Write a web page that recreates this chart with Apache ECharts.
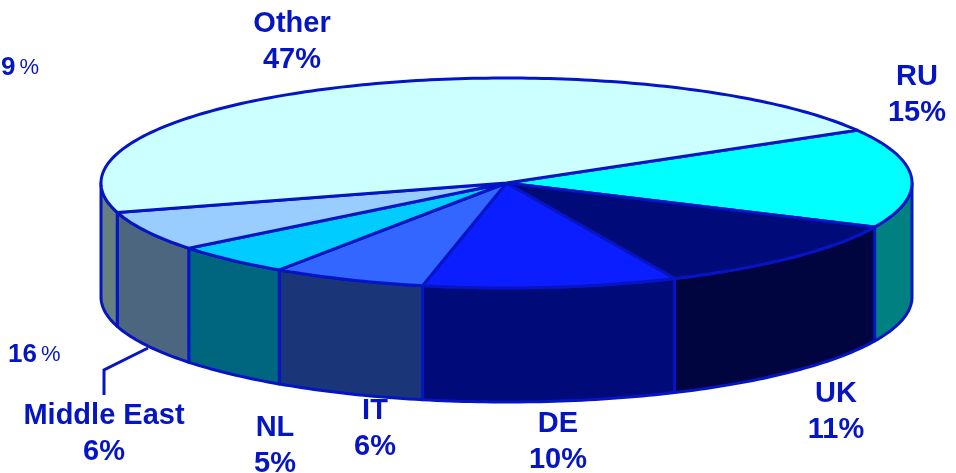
<!DOCTYPE html>
<html>
<head>
<meta charset="utf-8">
<style>
  html, body { margin: 0; padding: 0; background: #fff; }
  #chart { width: 956px; height: 473px; }
</style>
<script src="https://cdn.jsdelivr.net/npm/echarts@6/dist/echarts.min.js"></script>
</head>
<body>
<div id="chart"></div>
<script>
// slices clockwise from the RU/Other edge
const categories = ['RU', 'UK', 'DE', 'IT', 'NL', 'Middle East', 'Other']
const sliceValues = [15.4, 11.4, 10.2, 6.2, 4.9, 6.2, 46.5]
const percentLabels = ['15%', '11%', '10%', '6%', '5%', '6%', '47%']
const looseLabels = ['9', '16']

const topColors = ['#00FFFF', '#000A78', '#0A1EFF', '#3366FF', '#00CCFF', '#99CCFF', '#CCFFFF']
const wallColors = ['#008080', '#000540', '#000A78', '#1A3578', '#006680', '#4D6680', '#668080']
const inkColor = '#0515C4'

const startAngle = 30.2
const pieDepth = 1.086
const total = sliceValues.reduce((a, b) => a + b, 0)

// rim point of the top (or bottom) disc, through the hidden axes
function rim(api, deg, drop) {
  const r = deg * Math.PI / 180
  return api.coord([Math.cos(r), Math.sin(r) - drop])
}

function arcPoints(api, from, to, drop) {
  const pts = []
  const steps = Math.max(2, Math.ceil(Math.abs(from - to)))
  for (let i = 0; i <= steps; i++) {
    pts.push(rim(api, from + (to - from) * i / steps, drop))
  }
  return pts
}

function renderSlice(params, api) {
  const i = params.dataIndex
  let done = 0
  for (let k = 0; k < i; k++) done += sliceValues[k]
  const a0 = startAngle - done / total * 360
  const a1 = a0 - api.value(0) / total * 360
  const children = []

  // the wall only shows on the front half
  const hi = Math.min(a0, 0)
  const lo = Math.max(a1, -180)
  if (hi > lo) {
    const front = arcPoints(api, hi, lo, 0)
    const back = arcPoints(api, lo, hi, pieDepth)
    children.push({
      type: 'polygon',
      shape: { points: front.concat(back) },
      style: { fill: wallColors[i], stroke: inkColor, lineWidth: 3, lineJoin: 'round' }
    })
  }

  const top = [api.coord([0, 0])].concat(arcPoints(api, a0, a1, 0))
  children.push({
    type: 'polygon',
    shape: { points: top },
    style: { fill: topColors[i], stroke: inkColor, lineWidth: 3, lineJoin: 'round' }
  })
  return { type: 'group', children: children }
}

function sliceLabel(i, x, y) {
  return {
    type: 'text', x: x, y: y, z: 10,
    style: {
      text: categories[i] + '\n' + percentLabels[i],
      fill: inkColor,
      font: 'bold 29px "Liberation Sans", Arial, sans-serif',
      lineHeight: 36,
      align: 'center',
      verticalAlign: 'middle'
    }
  }
}

function looseLabel(i, x, y) {
  return {
    type: 'text', x: x, y: y, z: 10,
    style: {
      text: '{b|' + looseLabels[i] + '}{n|%}',
      align: 'left',
      verticalAlign: 'middle',
      rich: {
        b: { font: 'bold 26px "Liberation Sans", Arial, sans-serif', fill: inkColor },
        n: { font: '22px "Liberation Sans", Arial, sans-serif', fill: inkColor, padding: [0, 0, 0, 4] }
      }
    }
  }
}

const chart = echarts.init(document.getElementById('chart'))
chart.setOption({
  animation: false,
  backgroundColor: '#fff',
  grid: { left: 101, right: 44, top: 78, bottom: 71 },
  xAxis: { type: 'value', min: -1, max: 1, show: false },
  yAxis: { type: 'value', min: -1 - pieDepth, max: 1, show: false },
  series: [{
    type: 'custom',
    renderItem: renderSlice,
    data: sliceValues.map((v, i) => ({ name: categories[i], value: [v] }))
  }],
  graphic: [
    sliceLabel(6, 292, 42),
    sliceLabel(0, 917, 95),
    sliceLabel(1, 836, 412),
    sliceLabel(2, 558, 442),
    sliceLabel(3, 375, 429),
    sliceLabel(4, 275, 446),
    sliceLabel(5, 104, 434),
    looseLabel(0, 1, 68),
    looseLabel(1, 8, 355),
    {
      type: 'polyline', z: 10,
      shape: { points: [[148, 348], [104, 370], [104, 395]] },
      style: { stroke: inkColor, lineWidth: 3, fill: null }
    }
  ]
})
</script>
</body>
</html>
